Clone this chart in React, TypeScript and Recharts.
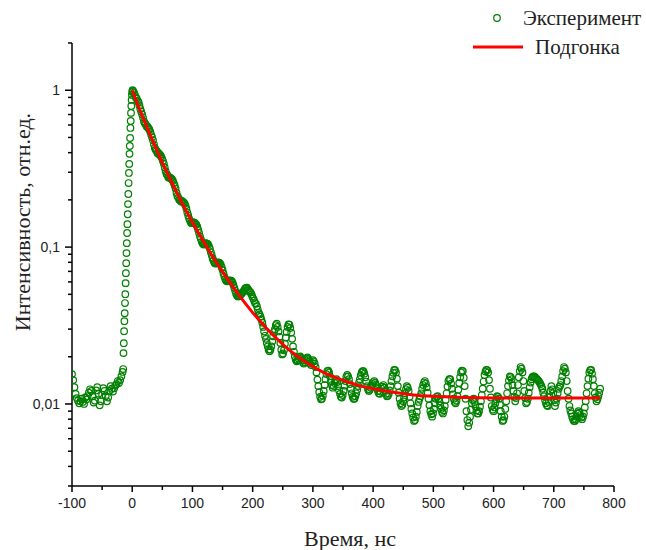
import React from "react";
import { Scatter, ScatterChart, XAxis, YAxis } from "recharts";

// experiment, baseline before the pulse
const baseTimes = [
  -100, -98, -96, -94, -92, -90, -88, -86, -84, -82,
  -80, -78, -76, -74, -72, -70, -68, -66, -64, -62,
  -60, -58, -56, -54, -52, -50, -48, -46, -44, -42,
  -40, -38, -36, -34, -32, -30, -28, -26, -24, -22,
  -20, -18, -16,
];
const baseValues = [
  0.0155, 0.0142, 0.0128, 0.0116, 0.0109, 0.0105, 0.0101, 0.0104, 0.0108, 0.0103,
  0.01, 0.011, 0.0107, 0.0112, 0.0118, 0.0124, 0.0121, 0.0112, 0.0102, 0.0105,
  0.0122, 0.0128, 0.0116, 0.0098, 0.0104, 0.0114, 0.0126, 0.0121, 0.0112, 0.0104,
  0.011, 0.0121, 0.013, 0.0125, 0.012, 0.0126, 0.0131, 0.0134, 0.014, 0.0136,
  0.0142, 0.015, 0.016,
];

// experiment, rising edge
const riseTimes = [-15, -14.5, -14, -13.5, -13, -12.5, -12, -11.5, -11, -10.5, -10, -9.5, -9, -8.5, -8, -7.5, -7, -6.5, -6, -5.5, -5, -4.5, -4, -3.5, -3, -2.5, -2, -1.5, -1, -0.5, 0, 0.5];
const riseValues = [0.0167, 0.0211, 0.0244, 0.0291, 0.0337, 0.0379, 0.044, 0.0501, 0.0589, 0.0682, 0.079, 0.0916, 0.106, 0.123, 0.14, 0.162, 0.188, 0.218, 0.256, 0.297, 0.339, 0.393, 0.441, 0.496, 0.575, 0.637, 0.717, 0.794, 0.867, 0.933, 0.975, 1.0];

// experiment, decay
const decayTimes = [
  1.5, 3, 4.5, 6, 7.5, 9, 10.5, 12, 13.5, 15,
  16.5, 18, 19.5, 21, 22.5, 24, 25.5, 27, 28.5, 30,
  31.5, 33, 34.5, 36, 37.5, 39, 40.5, 42, 43.5, 45,
  46.5, 48, 49.5, 51, 52.5, 54, 55.5, 57, 58.5, 60,
  61.5, 63, 64.5, 66, 67.5, 69, 70.5, 72, 73.5, 75,
  76.5, 78, 79.5, 81, 82.5, 84, 85.5, 87, 88.5, 90,
  91.5, 93, 94.5, 96, 97.5, 99, 100.5, 102, 103.5, 105,
  106.5, 108, 109.5, 111, 112.5, 114, 115.5, 117, 118.5, 120,
  121.5, 123, 124.5, 126, 127.5, 129, 130.5, 132, 133.5, 135,
  136.5, 138, 139.5, 141, 142.5, 144, 145.5, 147, 148.5, 150,
  151.5, 153, 154.5, 156, 157.5, 159, 160.5, 162, 163.5, 165,
  166.5, 168, 169.5, 171, 172.5, 174, 175.5, 177, 178.5, 180,
  181.5, 183, 184.5, 186, 187.5, 189, 190.5, 192, 193.5, 195,
  196.5, 198, 199.5, 201,
];
const decayValues = [
  0.99, 0.965, 0.93, 0.9, 0.885, 0.855, 0.84, 0.8, 0.76, 0.73,
  0.7, 0.667, 0.632, 0.615, 0.605, 0.588, 0.585, 0.573, 0.562, 0.543,
  0.52, 0.502, 0.48, 0.452, 0.43, 0.417, 0.41, 0.397, 0.398, 0.39,
  0.387, 0.378, 0.368, 0.354, 0.34, 0.322, 0.305, 0.292, 0.287, 0.278,
  0.279, 0.275, 0.275, 0.27, 0.265, 0.256, 0.247, 0.236, 0.222, 0.212,
  0.207, 0.2, 0.2, 0.195, 0.197, 0.194, 0.193, 0.189, 0.184, 0.176,
  0.166, 0.159, 0.152, 0.147, 0.143, 0.142, 0.144, 0.143, 0.143, 0.141,
  0.139, 0.135, 0.129, 0.123, 0.117, 0.1125, 0.108, 0.1055, 0.104, 0.104,
  0.106, 0.1055, 0.105, 0.104, 0.101, 0.0977, 0.093, 0.089, 0.085, 0.0819,
  0.0795, 0.0785, 0.0788, 0.0792, 0.08, 0.0797, 0.079, 0.0773, 0.0745, 0.0716,
  0.068, 0.0649, 0.0625, 0.0611, 0.0605, 0.0607, 0.0612, 0.0614, 0.0612, 0.0608,
  0.0595, 0.0575, 0.055, 0.0527, 0.0505, 0.0492, 0.0485, 0.0486, 0.049, 0.0497,
  0.0505, 0.0515, 0.052, 0.053, 0.0545, 0.055, 0.0552, 0.054, 0.053, 0.052,
  0.0515, 0.05, 0.0485, 0.047,
];

// experiment, noisy tail
const tailTimes = [
  202.5, 204, 205.5, 207, 208.5, 210, 211.5, 213, 214.5, 216,
  217.5, 219, 220.5, 222, 223.5, 225, 226.5, 228, 229.5, 231,
  232.5, 234, 235.5, 237, 238.5, 240, 241.5, 243, 244.5, 246,
  247.5, 249, 250.5, 252, 253.5, 255, 256.5, 258, 259.5, 261,
  262.5, 264, 265.5, 267, 268.5, 270, 271.5, 273, 274.5, 276,
  277.5, 279, 280.5, 282, 283.5, 285, 286.5, 288, 289.5, 291,
  292.5, 294, 295.5, 297, 298.5, 300, 301.5, 303, 304.5, 306,
  307.5, 309, 310.5, 312, 313.5, 315, 316.5, 318, 319.5, 321,
  322.5, 324, 325.5, 327, 328.5, 330, 331.5, 333, 334.5, 336,
  337.5, 339, 340.5, 342, 343.5, 345, 346.5, 348, 349.5, 351,
  352.5, 354, 355.5, 357, 358.5, 360, 361.5, 363, 364.5, 366,
  367.5, 369, 370.5, 372, 373.5, 375, 376.5, 378, 379.5, 381,
  382.5, 384, 385.5, 387, 388.5, 390, 391.5, 393, 394.5, 396,
  397.5, 399, 400.5, 402, 403.5, 405, 406.5, 408, 409.5, 411,
  412.5, 414, 415.5, 417, 418.5, 420, 421.5, 423, 424.5, 426,
  427.5, 429, 430.5, 432, 433.5, 435, 436.5, 438, 439.5, 441,
  442.5, 444, 445.5, 447, 448.5, 450, 451.5, 453, 454.5, 456,
  457.5, 459, 460.5, 462, 463.5, 465, 466.5, 468, 469.5, 471,
  472.5, 474, 475.5, 477, 478.5, 480, 481.5, 483, 484.5, 486,
  487.5, 489, 490.5, 492, 493.5, 495, 496.5, 498, 499.5, 501,
  502.5, 504, 505.5, 507, 508.5, 510, 511.5, 513, 514.5, 516,
  517.5, 519, 520.5, 522, 523.5, 525, 526.5, 528, 529.5, 531,
  532.5, 534, 535.5, 537, 538.5, 540, 541.5, 543, 544.5, 546,
  547.5, 549, 550.5, 552, 553.5, 555, 556.5, 558, 559.5, 561,
  562.5, 564, 565.5, 567, 568.5, 570, 571.5, 573, 574.5, 576,
  577.5, 579, 580.5, 582, 583.5, 585, 586.5, 588, 589.5, 591,
  592.5, 594, 595.5, 597, 598.5, 600, 601.5, 603, 604.5, 606,
  607.5, 609, 610.5, 612, 613.5, 615, 616.5, 618, 619.5, 621,
  622.5, 624, 625.5, 627, 628.5, 630, 631.5, 633, 634.5, 636,
  637.5, 639, 640.5, 642, 643.5, 645, 646.5, 648, 649.5, 651,
  652.5, 654, 655.5, 657, 658.5, 660, 661.5, 663, 664.5, 666,
  667.5, 669, 670.5, 672, 673.5, 675, 676.5, 678, 679.5, 681,
  682.5, 684, 685.5, 687, 688.5, 690, 691.5, 693, 694.5, 696,
  697.5, 699, 700.5, 702, 703.5, 705, 706.5, 708, 709.5, 711,
  712.5, 714, 715.5, 717, 718.5, 720, 721.5, 723, 724.5, 726,
  727.5, 729, 730.5, 732, 733.5, 735, 736.5, 738, 739.5, 741,
  742.5, 744, 745.5, 747, 748.5, 750, 751.5, 753, 754.5, 756,
  757.5, 759, 760.5, 762, 763.5, 765, 766.5, 768, 769.5, 771,
  772.5, 774, 775.5, 777,
];
const tailValues = [
  0.0455, 0.044, 0.0435, 0.042, 0.04, 0.038, 0.0372, 0.036, 0.0345, 0.033,
  0.031, 0.029, 0.0272, 0.026, 0.0245, 0.0233, 0.0222, 0.0217, 0.0222, 0.0233,
  0.025, 0.027, 0.0288, 0.03, 0.0318, 0.0325, 0.031, 0.029, 0.0268, 0.0245,
  0.0222, 0.0207, 0.021, 0.022, 0.0242, 0.0265, 0.0288, 0.031, 0.0322, 0.032,
  0.0305, 0.0285, 0.026, 0.0233, 0.0215, 0.0201, 0.0192, 0.0187, 0.019, 0.0195,
  0.0199, 0.0201, 0.0196, 0.019, 0.0184, 0.0181, 0.0185, 0.019, 0.0195, 0.0198,
  0.0193, 0.0187, 0.0181, 0.0177, 0.0183, 0.019, 0.0187, 0.0181, 0.0172, 0.0159,
  0.0143, 0.013, 0.0119, 0.0111, 0.0107, 0.0108, 0.0113, 0.0121, 0.0132, 0.0144,
  0.0155, 0.0162, 0.0163, 0.0159, 0.015, 0.014, 0.0132, 0.0127, 0.013, 0.0136,
  0.0141, 0.0144, 0.0138, 0.013, 0.0122, 0.0116, 0.0111, 0.011, 0.0114, 0.0121,
  0.0131, 0.014, 0.0149, 0.0153, 0.015, 0.0144, 0.0134, 0.0125, 0.0117, 0.0111,
  0.0108, 0.0108, 0.0112, 0.0117, 0.0123, 0.013, 0.0137, 0.0144, 0.0152, 0.0159,
  0.0162, 0.0162, 0.0156, 0.0148, 0.0139, 0.013, 0.0124, 0.0121, 0.0123, 0.0127,
  0.0131, 0.0134, 0.0138, 0.014, 0.0136, 0.0132, 0.0126, 0.0121, 0.0117, 0.0116,
  0.012, 0.0125, 0.0129, 0.0132, 0.0127, 0.0121, 0.0116, 0.0112, 0.0113, 0.0116,
  0.0122, 0.013, 0.014, 0.015, 0.0158, 0.0165, 0.0164, 0.0159, 0.0145, 0.013,
  0.0118, 0.0108, 0.0101, 0.0097, 0.0099, 0.0104, 0.011, 0.0117, 0.0124, 0.013,
  0.0127, 0.0121, 0.0111, 0.0101, 0.0093, 0.0087, 0.0082, 0.0078, 0.0079, 0.0083,
  0.0089, 0.0097, 0.0103, 0.0108, 0.0112, 0.0117, 0.0125, 0.0132, 0.0137, 0.014,
  0.0135, 0.0128, 0.0118, 0.0108, 0.0098, 0.009, 0.0086, 0.0083, 0.0087, 0.0093,
  0.0101, 0.0108, 0.0111, 0.0112, 0.0108, 0.0104, 0.0098, 0.0093, 0.0089, 0.0087,
  0.0091, 0.0097, 0.0106, 0.0117, 0.0129, 0.014, 0.0144, 0.0144, 0.0135, 0.0125,
  0.0115, 0.0108, 0.0103, 0.0101, 0.0105, 0.0112, 0.0123, 0.0136, 0.0148, 0.0159,
  0.0163, 0.0162, 0.0147, 0.013, 0.0108, 0.009, 0.0079, 0.0072, 0.0076, 0.0083,
  0.0092, 0.0101, 0.0106, 0.0108, 0.0103, 0.0097, 0.0091, 0.0087, 0.0087, 0.009,
  0.0096, 0.0104, 0.0114, 0.0125, 0.0139, 0.0153, 0.0161, 0.0165, 0.0164, 0.0159,
  0.0142, 0.0125, 0.011, 0.0097, 0.0092, 0.009, 0.0095, 0.0101, 0.0107, 0.0112,
  0.0111, 0.0108, 0.0099, 0.009, 0.0083, 0.0078, 0.0079, 0.0083, 0.0093, 0.0104,
  0.0117, 0.013, 0.0141, 0.015, 0.0148, 0.0144, 0.0132, 0.0121, 0.0111, 0.0104,
  0.0109, 0.0117, 0.0132, 0.0148, 0.0162, 0.0172, 0.0168, 0.0159, 0.014, 0.0121,
  0.0109, 0.0101, 0.0103, 0.0108, 0.0118, 0.0128, 0.0137, 0.0144, 0.0148, 0.015,
  0.015, 0.0148, 0.0146, 0.0144, 0.0142, 0.014, 0.0137, 0.0134, 0.013, 0.0125,
  0.0118, 0.0112, 0.0106, 0.0101, 0.0098, 0.0097, 0.0103, 0.0111, 0.0121, 0.013,
  0.0124, 0.0117, 0.0106, 0.0097, 0.0102, 0.0108, 0.0117, 0.0125, 0.0129, 0.0132,
  0.014, 0.015, 0.0162, 0.0172, 0.0168, 0.0159, 0.014, 0.0121, 0.0108, 0.0097,
  0.0091, 0.0087, 0.0083, 0.008, 0.0078, 0.0078, 0.008, 0.0083, 0.0087, 0.009,
  0.0088, 0.0085, 0.0082, 0.008, 0.0083, 0.0087, 0.0095, 0.0104, 0.0117, 0.013,
  0.0145, 0.0159, 0.0164, 0.0165, 0.0156, 0.0144, 0.013, 0.0117, 0.011, 0.0104,
  0.0107, 0.0112, 0.0118, 0.0125,
];

// fit curve
const fitTimes = [0, 10, 20, 30, 40, 50, 60, 70, 80, 90, 100, 110, 120, 130, 140, 150, 160, 170, 180, 190, 200, 210, 220, 230, 240, 250, 260, 270, 280, 290, 300, 320, 340, 360, 380, 400, 420, 440, 460, 480, 500, 550, 600, 650, 700, 750, 777];
const fitValues = [1.0, 0.796, 0.639, 0.517, 0.421, 0.346, 0.287, 0.239, 0.2, 0.169, 0.144, 0.123, 0.106, 0.0915, 0.0795, 0.0695, 0.0611, 0.0539, 0.0478, 0.0427, 0.0382, 0.0345, 0.0312, 0.0285, 0.0261, 0.024, 0.0222, 0.0207, 0.0194, 0.0183, 0.0173, 0.0157, 0.0146, 0.0137, 0.013, 0.0125, 0.0121, 0.0118, 0.0115, 0.0113, 0.0112, 0.011, 0.0109, 0.0109, 0.0109, 0.0109, 0.0109];

const xTicks = [-100, -50, 0, 50, 100, 150, 200, 250, 300, 350, 400, 450, 500, 550, 600, 650, 700, 750, 800];
const yTicks = [0.003, 0.004, 0.005, 0.006, 0.007, 0.008, 0.009, 0.01, 0.02, 0.03, 0.04, 0.05, 0.06, 0.07, 0.08, 0.09, 0.1, 0.2, 0.3, 0.4, 0.5, 0.6, 0.7, 0.8, 0.9, 1, 2];
const yLabels: Record<string, string> = { "0.01": "0,01", "0.1": "0,1", "1": "1" };

const pairs = (ts: number[], vs: number[]) => ts.map((t, i) => ({ t, v: vs[i] })).filter((d) => d.v !== undefined);

const expData = [
  ...pairs(baseTimes, baseValues),
  ...pairs(riseTimes, riseValues),
  ...pairs(decayTimes, decayValues),
  ...pairs(tailTimes, tailValues),
];
const fitData = pairs(fitTimes, fitValues);

const GREEN = "#008000";
const SANS = "Liberation Sans, Arial, sans-serif";
const SERIF = "Liberation Serif, DejaVu Serif, serif";

function XTick(props: any) {
  const { x, y, payload } = props;
  const v = payload.value;
  const major = v % 100 === 0;
  return (
    <g>
      <line x1={x} x2={x} y1={y} y2={y + (major ? 6 : 4)} stroke="#000" strokeWidth={1.5} />
      {major && (
        <text x={x} y={y + 22} textAnchor="middle" style={{ fontFamily: SANS, fontSize: 14 }} fill="#222">
          {v}
        </text>
      )}
    </g>
  );
}

function YTick(props: any) {
  const { x, y, payload } = props;
  const label = yLabels[String(payload.value)];
  return (
    <g>
      <line x1={x - (label ? 7 : 4)} x2={x} y1={y} y2={y} stroke="#000" strokeWidth={1.5} />
      {label && (
        <text x={x - 12} y={y + 5} textAnchor="end" style={{ fontFamily: SANS, fontSize: 14 }} fill="#222">
          {label}
        </text>
      )}
    </g>
  );
}

const ExpDot = (props: any) => (
  <circle cx={props.cx} cy={props.cy} r={3.3} fill="none" stroke={GREEN} strokeWidth={1.2} />
);

const titleText = { fontFamily: SERIF, fontSize: 22 };
const legendText = { fontFamily: SERIF, fontSize: 21 };

export default function App() {
  return (
    <div style={{ position: "absolute", left: 0, top: 0, width: 646, height: 550, background: "#fff" }}>
      <ScatterChart width={646} height={550} margin={{ top: 43, right: 32, left: 0, bottom: 0 }}>
        <XAxis
          type="number"
          dataKey="t"
          domain={[-100, 800]}
          ticks={xTicks}
          interval={0}
          height={64}
          tick={<XTick />}
          tickLine={false}
          tickSize={0}
          tickMargin={0}
          axisLine={{ stroke: "#000", strokeWidth: 1.5 }}
          allowDataOverflow
        />
        <YAxis
          type="number"
          dataKey="v"
          scale="log"
          domain={[0.003, 2]}
          ticks={yTicks}
          interval={0}
          width={72}
          tick={<YTick />}
          tickLine={false}
          tickSize={0}
          tickMargin={0}
          axisLine={{ stroke: "#000", strokeWidth: 1.5 }}
          allowDataOverflow
        />
        <Scatter data={expData} shape={ExpDot} isAnimationActive={false} />
        <Scatter
          data={fitData}
          line={{ stroke: "#ff0000", strokeWidth: 3 }}
          lineType="joint"
          shape={() => <g />}
          isAnimationActive={false}
        />
      </ScatterChart>
      <svg width={646} height={550} style={{ position: "absolute", left: 0, top: 0, pointerEvents: "none" }}>
        <text transform="translate(30,222) rotate(-90)" textAnchor="middle" style={titleText} fill="#222">
          Интенсивность, отн.ед.
        </text>
        <text x={350} y={546} textAnchor="middle" style={titleText} fill="#222">
          Время, нс
        </text>
        <circle cx={497} cy={18} r={3.3} fill="none" stroke={GREEN} strokeWidth={1.2} />
        <text x={523} y={25} style={legendText} fill="#222">
          Эксперимент
        </text>
        <line x1={473} x2={523} y1={47} y2={47} stroke="#ff0000" strokeWidth={3} />
        <text x={535} y={54} style={legendText} fill="#222">
          Подгонка
        </text>
      </svg>
    </div>
  );
}
